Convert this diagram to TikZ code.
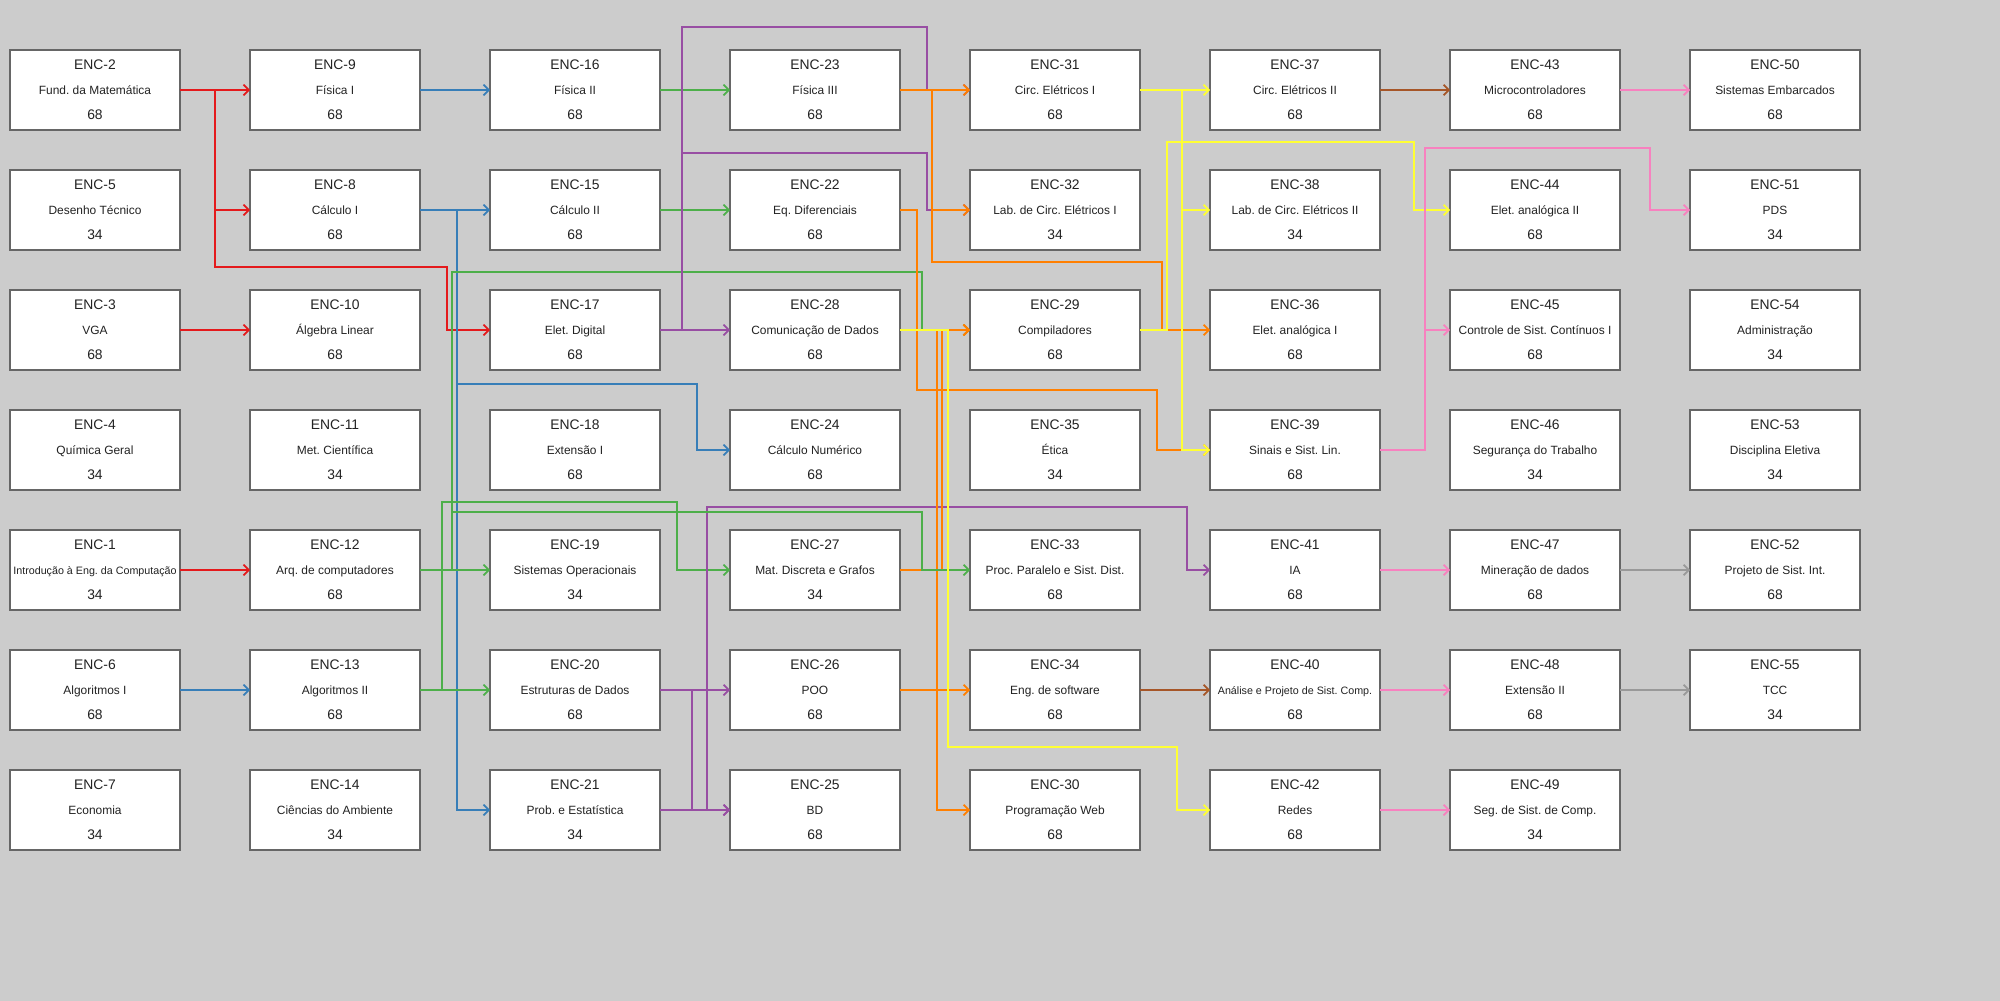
\documentclass[tikz,border=0pt]{standalone}
\usepackage{fontspec}
\setmainfont{Liberation Sans}
\usetikzlibrary{arrows.meta}
\definecolor{bgc}{HTML}{CCCCCC}
\definecolor{boxc}{HTML}{666666}
\definecolor{txtc}{HTML}{222222}
\definecolor{cred}{HTML}{E41A1C}
\definecolor{cblue}{HTML}{377EB8}
\definecolor{cgreen}{HTML}{4DAF4A}
\definecolor{cpurple}{HTML}{984EA3}
\definecolor{corange}{HTML}{FF7F00}
\definecolor{cyellow}{HTML}{FFFF33}
\definecolor{cbrown}{HTML}{A65628}
\definecolor{cpink}{HTML}{F781BF}
\definecolor{cgray}{HTML}{999999}
\newcommand{\smalltitle}{\fontsize{6.1}{7}\selectfont}
\frenchspacing

\begin{document}
\begin{tikzpicture}[x=0.02cm,y=-0.02cm,
  course/.style={draw=boxc,fill=white,line width=0.9pt,minimum width=3.4cm,minimum height=1.6cm,inner sep=0pt,outer sep=0pt},
  codetext/.style={anchor=base,inner sep=0pt,text=txtc,font=\fontsize{7.9}{9}\selectfont},
  titletext/.style={anchor=base,inner sep=0pt,text=txtc,font=\fontsize{6.8}{8}\selectfont},
  link/.style={line width=1pt,-{Straight Barb[length=3pt,width=6pt]}}]
    \useasboundingbox (0,0) rectangle (2000,1000);
    \fill[bgc] (-10,-10) rectangle (2010,1010);
    % disciplinas: numero/coluna/linha/nome/horas
    \foreach \n/\c/\r/\t/\h in {
        2/0/0/Fund. da Matemática/68, 5/0/1/Desenho Técnico/34, 3/0/2/VGA/68,
        4/0/3/Química Geral/34, 1/0/4/{\smalltitle Introdução à Eng. da Computação}/34,
        6/0/5/Algoritmos I/68, 7/0/6/Economia/34,
        9/1/0/Física I/68, 8/1/1/Cálculo I/68, 10/1/2/Álgebra Linear/68,
        11/1/3/Met. Científica/34, 12/1/4/Arq. de computadores/68,
        13/1/5/Algoritmos II/68, 14/1/6/Ciências do Ambiente/34,
        16/2/0/Física II/68, 15/2/1/Cálculo II/68, 17/2/2/Elet. Digital/68,
        18/2/3/Extensão I/68, 19/2/4/Sistemas Operacionais/34,
        20/2/5/Estruturas de Dados/68, 21/2/6/Prob. e Estatística/34,
        23/3/0/Física III/68, 22/3/1/Eq. Diferenciais/68, 28/3/2/Comunicação de Dados/68,
        24/3/3/Cálculo Numérico/68, 27/3/4/Mat. Discreta e Grafos/34,
        26/3/5/POO/68, 25/3/6/BD/68,
        31/4/0/Circ. Elétricos I/68, 32/4/1/Lab. de Circ. Elétricos I/34,
        29/4/2/Compiladores/68, 35/4/3/Ética/34, 33/4/4/Proc. Paralelo e Sist. Dist./68,
        34/4/5/Eng. de software/68, 30/4/6/Programação Web/68,
        37/5/0/Circ. Elétricos II/68, 38/5/1/Lab. de Circ. Elétricos II/34,
        36/5/2/Elet. analógica I/68, 39/5/3/Sinais e Sist. Lin./68, 41/5/4/IA/68,
        40/5/5/{\smalltitle Análise e Projeto de Sist. Comp.}/68, 42/5/6/Redes/68,
        43/6/0/Microcontroladores/68, 44/6/1/Elet. analógica II/68,
        45/6/2/Controle de Sist. Contínuos I/68, 46/6/3/Segurança do Trabalho/34,
        47/6/4/Mineração de dados/68, 48/6/5/Extensão II/68, 49/6/6/Seg. de Sist. de Comp./34,
        50/7/0/Sistemas Embarcados/68, 51/7/1/PDS/34, 54/7/2/Administração/34,
        53/7/3/Disciplina Eletiva/34, 52/7/4/Projeto de Sist. Int./68, 55/7/5/TCC/34}
    {
        \node[course] (enc\n) at (95+240*\c,90+120*\r) {};
        \node[codetext] at (95+240*\c,69.3+120*\r) {ENC-\n};
        \node[titletext] at (95+240*\c,94.7+120*\r) {\t};
        \node[codetext] at (95+240*\c,119.3+120*\r) {\h};
    }
    % pre-requisitos
    \draw[link,cred] (enc2.east) -- (enc9.west);
    \draw[link,cred] (enc2.east) -- ++(35,0) |- (enc8.west);
    \draw[link,cred] (enc2.east) -- ++(35,0) |- (447,267) |- (enc17.west);
    \draw[link,cred] (enc3.east) -- (enc10.west);
    \draw[link,cred] (enc1.east) -- (enc12.west);
    \draw[link,cblue] (enc9.east) -- (enc16.west);
    \draw[link,cblue] (enc8.east) -- (enc15.west);
    \draw[link,cblue] (enc8.east) -- ++(37,0) |- (697,384) |- (enc24.west);
    \draw[link,cblue] (enc8.east) -- ++(37,0) |- (enc21.west);
    \draw[link,cblue] (enc6.east) -- (enc13.west);
    \draw[link,cgreen] (enc16.east) -- (enc23.west);
    \draw[link,cgreen] (enc15.east) -- (enc22.west);
    \draw[link,cgreen] (enc12.east) -- (enc19.west);
    \draw[link,cgreen] (enc12.east) -- ++(32,0) |- (922,272) |- (enc29.west);
    \draw[link,cgreen] (enc13.east) -- (enc20.west);
    \draw[link,cgreen] (enc13.east) -- ++(22,0) |- (677,502) |- (enc27.west);
    \draw[link,cpurple] (enc17.east) -- (enc28.west);
    \draw[link,cpurple] (enc17.east) -- ++(22,0) |- (927,27) |- (enc31.west);
    \draw[link,cpurple] (enc17.east) -- ++(22,0) |- (927,153) |- (enc32.west);
    \draw[link,cpurple] (enc20.east) -- (enc26.west);
    \draw[link,cpurple] (enc20.east) -- ++(32,0) |- (enc25.west);
    \draw[link,cpurple] (enc21.east) -- (enc25.west);
    \draw[link,cpurple] (enc21.east) -- ++(47,0) |- (1187,507) |- (enc41.west);
    \draw[link,corange] (enc23.east) -- (enc31.west);
    \draw[link,corange] (enc23.east) -- ++(32,0) |- (enc32.west);
    \draw[link,corange] (enc23.east) -- ++(32,0) |- (1162,262) |- (enc36.west);
    \draw[link,corange] (enc22.east) -- ++(17,0) |- (1157,390) |- (enc39.west);
    \draw[link,corange] (enc27.east) -- ++(42,0) |- (enc29.west);
    \draw[link,corange] (enc26.east) -- (enc34.west);
    \draw[link,corange] (enc26.east) -- ++(37,0) |- (enc29.west);
    \draw[link,corange] (enc26.east) -- ++(37,0) |- (enc30.west);
    \draw[link,cgreen] (enc12.east) -- ++(32,0) |- (922,512) |- (enc33.west);
    \draw[link,cyellow] (enc31.east) -- (enc37.west);
    \draw[link,cyellow] (enc31.east) -- ++(42,0) |- (enc38.west);
    \draw[link,cyellow] (enc31.east) -- ++(42,0) |- (enc39.west);
    \draw[link,cyellow] (enc29.east) -- ++(27,0) |- (1414,142) |- (enc44.west);
    \draw[link,cyellow] (enc28.east) -- ++(48,0) |- (1177,747) |- (enc42.west);
    \draw[link,cbrown] (enc37.east) -- (enc43.west);
    \draw[link,cbrown] (enc34.east) -- (enc40.west);
    \draw[link,cpink] (enc43.east) -- (enc50.west);
    \draw[link,cpink] (enc39.east) -- ++(45,0) |- (enc45.west);
    \draw[link,cpink] (enc39.east) -- ++(45,0) |- (1650,148) |- (enc51.west);
    \draw[link,cpink] (enc41.east) -- (enc47.west);
    \draw[link,cpink] (enc40.east) -- (enc48.west);
    \draw[link,cpink] (enc42.east) -- (enc49.west);
    \draw[link,cgray] (enc47.east) -- (enc52.west);
    \draw[link,cgray] (enc48.east) -- (enc55.west);
\end{tikzpicture}
\end{document}
